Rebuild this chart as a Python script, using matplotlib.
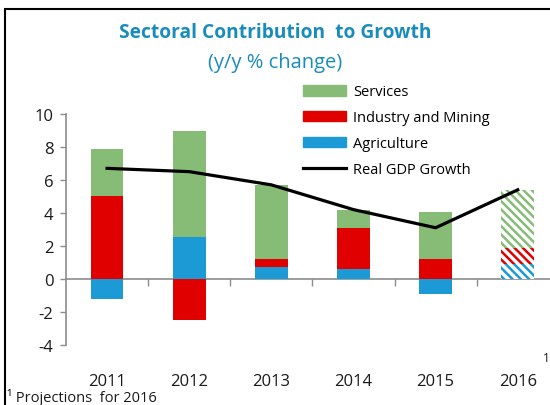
import matplotlib
matplotlib.use("Agg")
import matplotlib.pyplot as plt
import numpy as np
from matplotlib.patches import Rectangle

plt.rcParams['font.family'] = ['Open Sans', 'DejaVu Sans']
plt.rcParams['hatch.linewidth'] = 1.8
plt.rcParams['axes.unicode_minus'] = False

years = ['2011', '2012', '2013', '2014', '2015', '2016']
agriculture = [-1.2, 2.55, 0.7, 0.6, -0.9, 0.9]
industry = [5.05, -2.5, 0.5, 2.5, 1.2, 1.0]
services = [2.8, 6.4, 4.5, 1.1, 2.85, 3.5]
gdp = [6.7, 6.5, 5.7, 4.2, 3.1, 5.4]
projected = [False, False, False, False, False, True]

c_serv = '#86bc76'
c_ind = '#e00000'
c_agr = '#1b9ad6'
c_title = '#1a8cbc'
c_axis = '#8c8c8c'

fig = plt.figure(figsize=(5.5, 4.06), dpi=100)
ax = fig.add_axes([0.12, 0.148, 0.896, 0.569])

x = np.arange(len(years))
w = 0.4

# stack positives upward from 0, negatives downward from 0
pos = np.zeros(len(years))
neg = np.zeros(len(years))
for vals, col in [(agriculture, c_agr), (industry, c_ind), (services, c_serv)]:
    for i, v in enumerate(vals):
        base = pos[i] if v >= 0 else neg[i]
        if projected[i]:
            ax.bar(x[i], v, w, bottom=base, facecolor='white', edgecolor=col,
                   hatch='\\\\\\\\', linewidth=0, zorder=2)
        else:
            ax.bar(x[i], v, w, bottom=base, color=col, linewidth=0, zorder=2)
        if v >= 0:
            pos[i] += v
        else:
            neg[i] += v

ax.plot(x, gdp, color='black', linewidth=2.3, zorder=3)

ax.set_xlim(-0.5, 5.5)
ax.set_ylim(-4, 10)
ax.set_yticks(np.arange(-4, 11, 2))
ax.tick_params(axis='y', direction='out', length=4, width=1, color=c_axis,
               labelsize=12, labelcolor='#1a1a1a', pad=5)
ax.set_xticks(x)
ax.set_xticklabels(years)
ax.tick_params(axis='x', length=0, labelsize=12, labelcolor='#1a1a1a', pad=20)
for s in ['top', 'right', 'bottom']:
    ax.spines[s].set_visible(False)
ax.spines['left'].set_color(c_axis)
ax.spines['left'].set_linewidth(1.2)

# zero line with category separators
ymin, ymax = ax.get_ylim()
sec = ax.secondary_xaxis((0 - ymin) / (ymax - ymin))
sec.set_xticks(x[:-1] + 0.5)
sec.set_xticklabels([])
sec.tick_params(direction='out', length=5, width=1, color=c_axis)
sec.spines['bottom'].set_color(c_axis)
sec.spines['bottom'].set_linewidth(1.2)
sec.spines['top'].set_color(c_axis)
sec.spines['top'].set_linewidth(1.2)

ax.text(5.31, -4.95, '1', fontsize=8.5, color='#1a1a1a')

handles = [Rectangle((0, 0), 1, 1, color=c_serv),
           Rectangle((0, 0), 1, 1, color=c_ind),
           Rectangle((0, 0), 1, 1, color=c_agr),
           plt.Line2D([0], [0], color='black', linewidth=2.3)]
labels = ['Services', 'Industry and Mining', 'Agriculture', 'Real GDP Growth']
fig.legend(handles, labels, loc='upper left', bbox_to_anchor=(0.55, 0.79),
           frameon=False, fontsize=10.5, handlelength=3.0, handleheight=0.75,
           handletextpad=0.45, labelspacing=0.75, borderpad=0, borderaxespad=0)

fig.text(0.5, 0.918, 'Sectoral Contribution  to Growth', ha='center', va='center',
         fontsize=13.8, fontweight='bold', color=c_title)
fig.text(0.5, 0.845, '(y/y % change)', ha='center', va='center',
         fontsize=14.5, color=c_title)
fig.text(0.012, 0.022, '\u00b9 Projections  for 2016', ha='left', va='center',
         fontsize=10.5, color='#1a1a1a')

fig.patches.append(Rectangle((5 / 550, -0.05), 1.2, (406 - 10) / 406 + 0.05,
                             transform=fig.transFigure, fill=False,
                             edgecolor='black', linewidth=1.5))

fig.savefig('out.png', dpi=100)
